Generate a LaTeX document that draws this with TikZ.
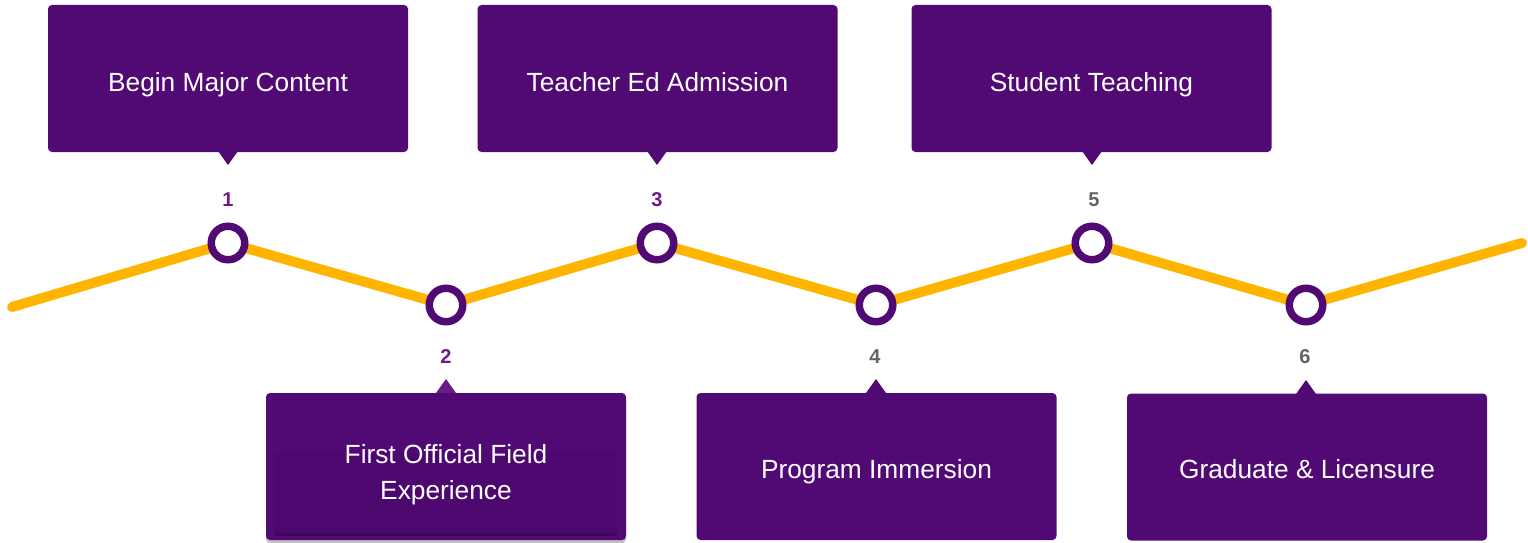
\documentclass[tikz,border=0pt]{standalone}
\usepackage{fontspec}
\setmainfont{Liberation Sans}
\usetikzlibrary{shadows}
\definecolor{boxc}{RGB}{81,10,116}
\definecolor{innerc}{RGB}{77,8,111}
\definecolor{numpurple}{RGB}{106,27,138}
\definecolor{numgrey}{RGB}{100,100,100}
\definecolor{trackc}{RGB}{255,180,0}
\begin{document}
\begin{tikzpicture}[x=1pt,y=-1pt,
  box/.style={fill=boxc, rounded corners=4pt, minimum width=360pt, minimum height=147pt, inner sep=0pt},
  lbl/.style={text=white, font=\fontsize{26.3}{36}\selectfont, align=center, anchor=base},
  num/.style={font=\bfseries\fontsize{20}{24}\selectfont},
  dot/.style={circle, draw=boxc, line width=7.5pt, fill=white, minimum size=33.5pt, inner sep=0pt},
  track/.style={draw=trackc, line width=10pt, line cap=round, line join=round},
  ptr/.style={fill=boxc},
]
\useasboundingbox (0,0) rectangle (1528,543);
% track
\coordinate (k0) at (12,307);
\coordinate (k1) at (228,243);
\coordinate (k2) at (446,305);
\coordinate (k3) at (657,243);
\coordinate (k4) at (876,305);
\coordinate (k5) at (1092,243);
\coordinate (k6) at (1306,305);
\coordinate (k7) at (1522,243);
\draw[track] (k0) -- (k1) -- (k2) -- (k3) -- (k4) -- (k5) -- (k6) -- (k7);
% dots
\node[dot] (c1) at (k1) {};
\node[dot, drop shadow={opacity=0.35, shadow xshift=0pt, shadow yshift=-2.5pt, fill=black}] (c2) at (k2) {};
\node[dot] (c3) at (k3) {};
\node[dot] (c4) at (k4) {};
\node[dot] (c5) at (k5) {};
\node[dot] (c6) at (k6) {};
% numbers
\node[num, text=numpurple] (n1) at (228,200) {1};
\node[num, text=numpurple] (n2) at (446,357) {2};
\node[num, text=numpurple] (n3) at (657,200) {3};
\node[num, text=numgrey] (n4) at (875,357) {4};
\node[num, text=numgrey] (n5) at (1094,200) {5};
\node[num, text=numgrey] (n6) at (1305,357) {6};
% top boxes
\node[box] (b1) at (228,78.5) {};
\node[box] (b3) at (657.5,78.5) {};
\node[box] (b5) at (1091.5,78.5) {};
\fill[ptr] (218,151) -- (238,151) -- (228,165) -- cycle;
\fill[ptr] (647,151) -- (667,151) -- (657,165) -- cycle;
\fill[ptr] (1082,151) -- (1102,151) -- (1092,165) -- cycle;
\node[lbl] (t1) at (228,92) {Begin Major Content};
\node[lbl] (t3) at (657.5,91) {Teacher Ed Admission};
\node[lbl] (t5) at (1091.5,92) {Student Teaching};
% bottom boxes
\fill[fill=numpurple, drop shadow={opacity=0.3, shadow xshift=0pt, shadow yshift=-3pt, fill=black}] (436,393) -- (456,393) -- (446,379) -- cycle;
\node[box, drop shadow={opacity=0.25, shadow xshift=0pt, shadow yshift=-3pt, fill=black}] (b2) at (446,466.5) {};
\node[box] (b4) at (876.5,466.5) {};
\node[box] (b6) at (1307,467) {};
\fill[ptr] (866,393) -- (886,393) -- (876,379) -- cycle;
\fill[ptr] (1296,394) -- (1316,394) -- (1306,380) -- cycle;
\fill[innerc, drop shadow={opacity=0.25, shadow xshift=0pt, shadow yshift=-3pt, fill=black}] (275,453) rectangle (617,533);
\node[lbl] (t2) at (446,499) {First Official Field\\Experience};
\node[lbl] (t4) at (876.5,478) {Program Immersion};
\node[lbl] (t6) at (1307,478) {Graduate \& Licensure};
\end{tikzpicture}
\end{document}
